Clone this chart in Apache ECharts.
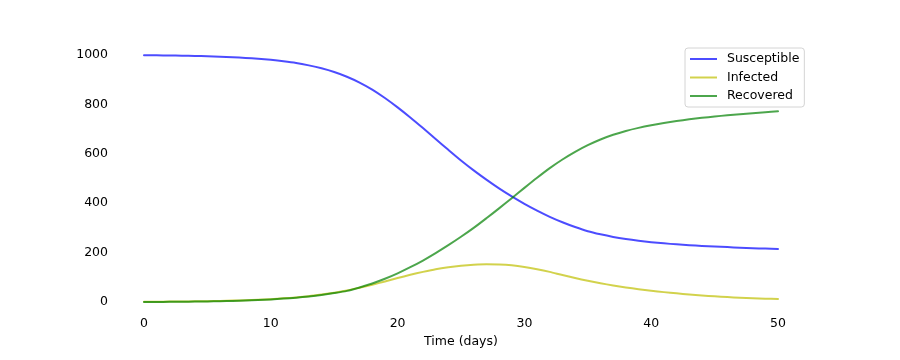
<!DOCTYPE html>
<html>
<head>
<meta charset="utf-8">
<script src="https://cdn.jsdelivr.net/npm/echarts@6/dist/echarts.min.js"></script>
<style>
html,body{margin:0;padding:0;background:#fff;}
#chart{width:900px;height:360px;}
</style>
</head>
<body>
<div id="chart"></div>
<script>
var days = [0,1,2,3,4,5,6,7,8,9,10,11,12,13,14,15,16,17,18,19,20,21,22,23,24,25,26,27,28,29,30,31,32,33,34,35,36,37,38,39,40,41,42,43,44,45,46,47,48,49,50];
var susceptible = [999,998.6,998,997.2,996.2,994.9,993.2,991,988.2,984.8,980.5,975,968,958,946,931,912,888.5,860,826,788,747,704,660,616,573,533,495.5,460,427.5,397.5,370,345,323,303.5,286.5,274,263.5,255,248,242.2,237.4,233.4,230,227.1,224.6,222.2,220,218,216.2,214.6];
var infected = [1,1.3,1.6,2.1,2.7,3.4,4.4,5.6,7.1,9.1,11.6,14.7,18.6,23.4,30,37.5,46.5,58,70,83,97,110,122,133,141,147,151,153,152,148.5,142,133,122,109,97,86,76,67,59,52,45.5,40,35,30.5,26.5,23,20,17.5,15.5,13.5,12];
var recovered = [0,0.3,0.65,1.1,1.65,2.35,3.3,4.5,6.1,8.1,10.6,13.7,17.6,22.5,28.5,36,45,59,75,94,116,141,168,198,230,264,300,339,379,420,462,503,542,577,608,635,658,677,692.5,705,715.5,724.5,732.5,739.5,745.5,751,756,760.5,764.5,768.5,772];
var xTicks = [0,10,20,30,40,50];
var yTicks = [0,200,400,600,800,1000];

function pairs(vals){ return days.map(function(d,i){ return [d, vals[i]]; }); }

var font = 'DejaVu Sans';
var fs = 12.5;
var chart = echarts.init(document.getElementById('chart'), null, {renderer:'canvas'});
function mkSeries(name, vals, color){
  return {
    name: name, type: 'line', data: pairs(vals), showSymbol: false, symbol: 'none',
    smooth: 0.25, clip: false,
    lineStyle: {color: color, width: 2, join: 'round', cap: 'round'}, itemStyle: {color: color},
    emphasis: {disabled: true}
  };
}
chart.setOption({
  animation: false,
  backgroundColor: '#ffffff',
  textStyle: {fontFamily: font},
  grid: {left: 144, right: 122, top: 55, bottom: 58, containLabel: false},
  xAxis: {
    type: 'value', min: xTicks[0], max: xTicks[xTicks.length-1], interval: 10,
    name: 'Time (days)', nameLocation: 'middle', nameGap: 32,
    nameTextStyle: {fontFamily: font, fontSize: fs, color: '#000'},
    axisLine: {show: false}, axisTick: {show: false}, splitLine: {show: false},
    axisLabel: {fontFamily: font, fontSize: fs, color: '#000', margin: 15,
      formatter: function(v){ return String(v); }}
  },
  yAxis: {
    type: 'value', min: yTicks[0], max: yTicks[yTicks.length-1], interval: 200,
    axisLine: {show: false}, axisTick: {show: false}, splitLine: {show: false},
    axisLabel: {fontFamily: font, fontSize: fs, color: '#000', margin: 36,
      formatter: function(v){ return String(v); }}
  },
  legend: {
    orient: 'vertical', left: 685, top: 48,
    icon: 'rect', itemWidth: 27, itemHeight: 2, itemGap: 4.5,
    padding: [4, 5, 4, 5],
    backgroundColor: 'rgba(255,255,255,0.8)',
    borderColor: '#d4d4d4', borderWidth: 1, borderRadius: 3,
    textStyle: {fontFamily: font, fontSize: fs, color: '#000', lineHeight: 14, padding: [0,0,0,5]},
    itemStyle: {borderWidth: 0},
    data: ['Susceptible','Infected','Recovered']
  },
  series: [
    mkSeries('Susceptible', susceptible, 'rgba(0,0,255,0.7)'),
    mkSeries('Infected', infected, 'rgba(191,191,0,0.7)'),
    mkSeries('Recovered', recovered, 'rgba(0,128,0,0.7)')
  ]
});
</script>
</body>
</html>
